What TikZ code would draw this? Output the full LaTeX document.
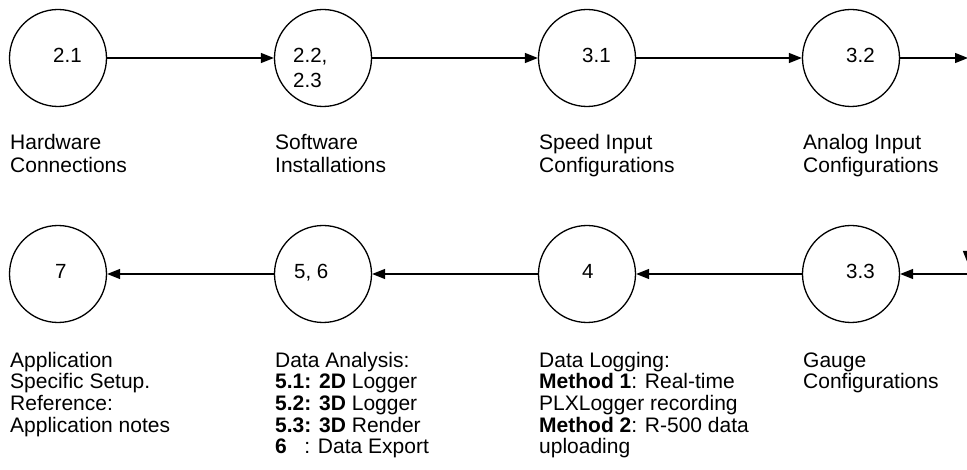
\documentclass[tikz,border=0pt]{standalone}
\usepackage{fontspec}
\setmainfont{Liberation Sans}
\usetikzlibrary{arrows.meta}

\begin{document}
\begin{tikzpicture}[x=1pt, y=-1pt,
  stage/.style={circle, draw, line width=1.3pt, minimum size=97pt, inner sep=0pt},
  flow/.style={line width=1.3pt, -{Triangle[length=13pt, width=10pt]}},
  % multi-line nodes are placed by the baseline of their last line
  num/.style={anchor=base west, inner sep=0pt, align=left,
    font=\fontsize{20.5}{25}\selectfont},
  caption/.style={anchor=base west, inner sep=0pt, align=left,
    font=\fontsize{21}{21.7}\selectfont},
  topcaption/.style={caption, font=\fontsize{21}{23.5}\selectfont}]
\useasboundingbox (0,0) rectangle (967,470);

% process stages, top row runs left to right
\node[stage] (s21) at (58,58) {};
\node[stage] (s22) at (323,58) {};
\node[stage] (s31) at (587,58) {};
\node[stage] (s32) at (851,58) {};
% bottom row runs right to left
\node[stage] (s7)  at (58,274) {};
\node[stage] (s56) at (323,274) {};
\node[stage] (s4)  at (587,274) {};
\node[stage] (s33) at (851,274) {};

% stage numbers
\node[num] (n21) at (53,63) {2.1};
\node[num] (n22) at (293,88) {2.2,\\2.3};
\node[num] (n31) at (582,63) {3.1};
\node[num] (n32) at (846,63) {3.2};
\node[num] (n7)  at (55,279) {7};
\node[num] (n56) at (294,279) {5, 6};
\node[num] (n4)  at (582,279) {4};
\node[num] (n33) at (846,279) {3.3};

% captions
\node[topcaption] (t21) at (10,173) {Hardware\\Connections};
\node[topcaption] (t22) at (275,173) {Software\\Installations};
\node[topcaption] (t31) at (539,173) {Speed Input\\Configurations};
\node[topcaption] (t32) at (803,173) {Analog Input\\Configurations};
\node[caption] (t7)  at (10,432.1) {Application\\Specific Setup.\\Reference:\\Application notes};
\node[caption] (t56) at (275,453.8) {Data Analysis:\\\textbf{5.1: 2D} Logger\\\textbf{5.2: 3D} Logger\\\textbf{5.3: 3D} Render\\\textbf{6\ \ \ }: Data Export};
\node[caption] (t4)  at (539,453.8) {Data Logging:\\\textbf{Method 1}: Real-time\\PLXLogger recording\\\textbf{Method 2}: R-500 data\\uploading};
\node[caption] (t33) at (803,388.7) {Gauge\\Configurations};

% connectors
\coordinate (outR) at (968,58);
\coordinate (inR)  at (990,274);
\coordinate (dropTop) at (968,235);
\coordinate (dropEnd) at (968,264);
\draw[flow] (s21) -- (s22);
\draw[flow] (s22) -- (s31);
\draw[flow] (s31) -- (s32);
\draw[flow] (s32) -- (outR);
\draw[flow] (inR) -- (s33);
\draw[flow] (s33) -- (s4);
\draw[flow] (s4) -- (s56);
\draw[flow] (s56) -- (s7);
\draw[flow] (dropTop) -- (dropEnd);
\end{tikzpicture}
\end{document}
